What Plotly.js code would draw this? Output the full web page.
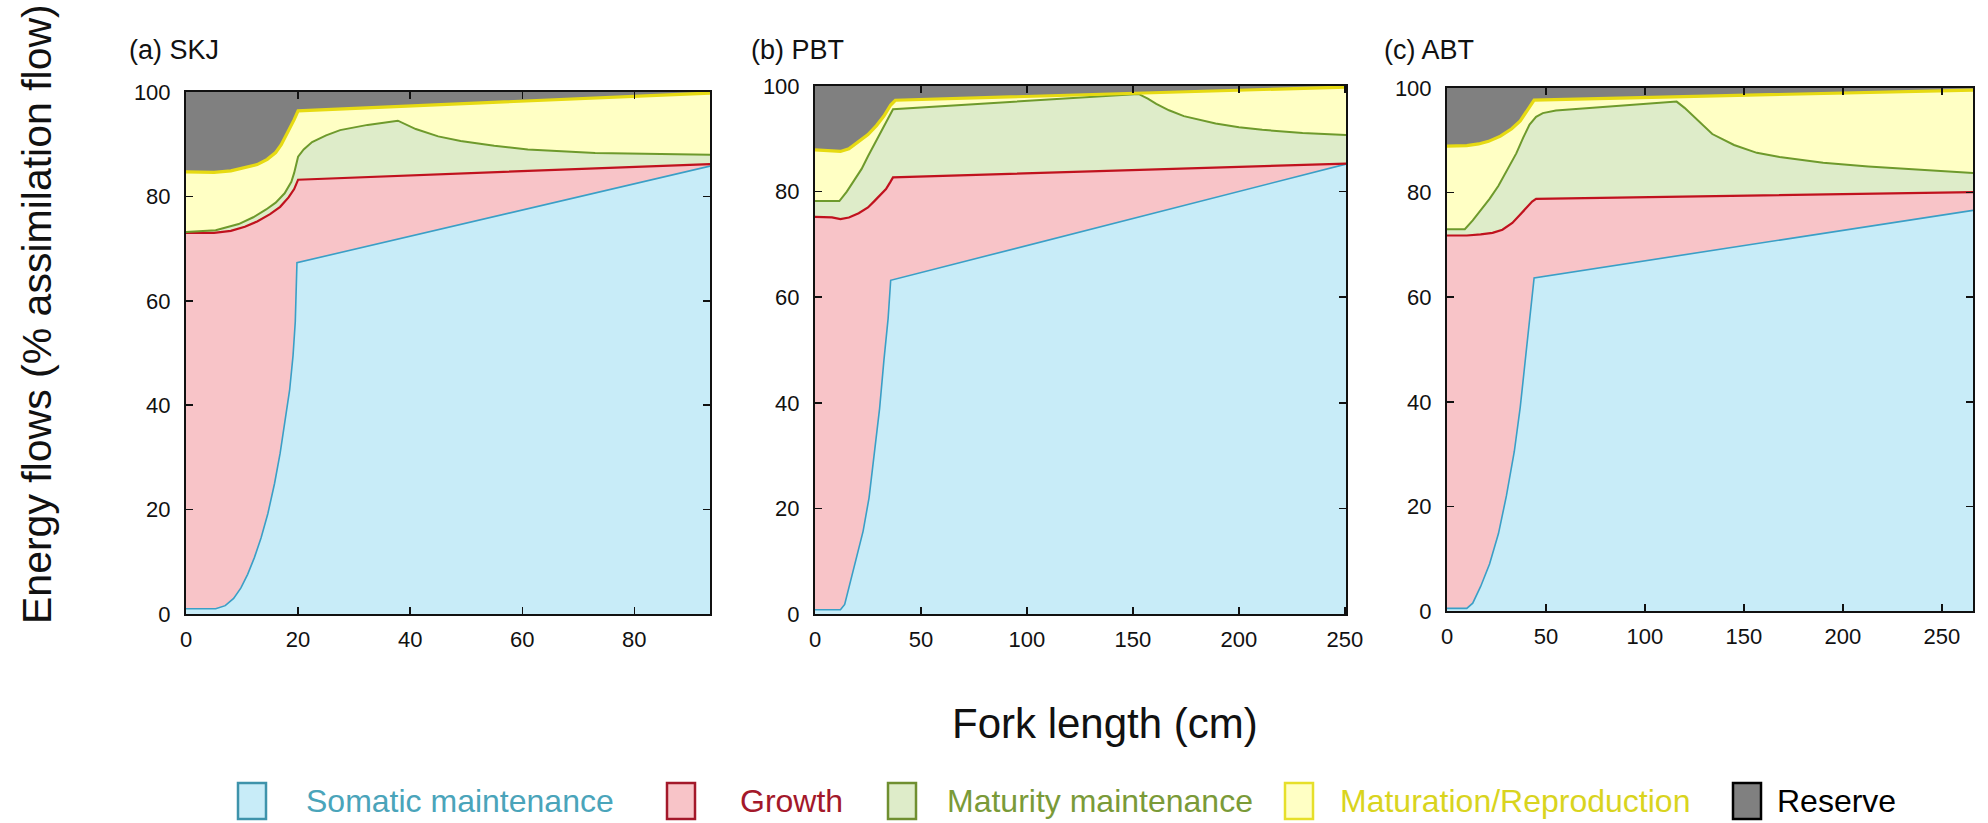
<!DOCTYPE html>
<html>
<head>
<meta charset="utf-8">
<script src="https://cdn.plot.ly/plotly-3.0.1.min.js"></script>
<style>
  html, body { margin: 0; padding: 0; background: #fff; }
  #chart { width: 1988px; height: 823px; }
</style>
</head>
<body>
<div id="chart"></div>
<script>
// ---------------- DATA (cumulative upper boundaries, % assimilation flow) ----------------
const seriesNames = ["Somatic maintenance", "Growth", "Maturity maintenance", "Maturation/Reproduction", "Reserve"];
const panelLabels = ["(a) SKJ", "(b) PBT", "(c) ABT"];
const xMax = [93.5, 250.5, 265.7];
const xTicksA = [0, 20, 40, 60, 80];
const xTicksBC = [0, 50, 100, 150, 200, 250];
const yTicks = [0, 20, 40, 60, 80, 100];

// (a) SKJ
const skjSomaticX = [0, 5.3, 7, 8.5, 9.8, 11, 12.2, 13.4, 14.6, 15.8, 16.8, 17.7, 18.5, 19.1, 19.5, 19.8, 93.5];
const skjSomaticY = [1, 1, 1.6, 3, 5, 7.6, 10.8, 14.6, 19.2, 25, 30.8, 36.8, 43, 49.5, 56, 67.3, 85.8];
const skjGrowthX = [0, 5, 8, 10.5, 12.7, 15, 16.8, 18.3, 19.3, 20, 93.5];
const skjGrowthY = [73, 73, 73.4, 74.2, 75.2, 76.6, 78, 79.8, 81.4, 83.2, 86.2];
const skjMaturityX = [0, 5.3, 9.4, 12, 14.3, 16, 17.6, 18.8, 19.3, 20, 21, 22.5, 25, 27.5, 32.4, 37.8, 41, 45, 49, 55, 61, 73, 93.5];
const skjMaturityY = [73.2, 73.5, 74.7, 76, 77.5, 78.8, 80.6, 82.8, 84.5, 87.6, 89, 90.4, 91.7, 92.7, 93.7, 94.5, 92.9, 91.5, 90.6, 89.7, 89, 88.3, 88];
const skjMaturationX = [0, 5, 8, 11, 12.7, 14.5, 16, 17, 18, 19.3, 20, 93.5];
const skjMaturationY = [84.7, 84.6, 84.9, 85.6, 86.1, 87.1, 88.4, 89.9, 91.9, 94.7, 96.4, 99.8];

// (b) PBT
const pbtSomaticX = [0, 12, 14, 16, 19, 22.7, 25.5, 28, 30.5, 32.5, 34.5, 35.7, 250.5];
const pbtSomaticY = [0.8, 0.8, 1.8, 4.9, 9.5, 15.7, 22, 31, 39, 48, 56, 63.2, 85.2];
const pbtGrowthX = [0, 8, 12, 16, 20.6, 25, 28, 31, 33.5, 35.5, 36.8, 250.5];
const pbtGrowthY = [75.2, 75.1, 74.8, 75.1, 75.9, 77, 78.2, 79.4, 80.5, 81.8, 82.7, 85.3];
const pbtMaturityX = [0, 11.5, 15, 18.4, 22, 25, 28, 31.4, 34, 36.8, 152.6, 157, 161, 167, 174, 181, 189, 200, 211, 230, 250.5];
const pbtMaturityY = [78.2, 78.2, 80, 82, 84.3, 86.7, 89, 91.4, 93.3, 95.6, 98.5, 97.6, 96.6, 95.4, 94.3, 93.6, 92.9, 92.2, 91.7, 91.1, 90.7];
const pbtMaturationX = [0, 8, 12, 16, 20.6, 25, 29, 32.5, 35.7, 37.9, 250.5];
const pbtMaturationY = [87.9, 87.8, 87.6, 88.1, 89.4, 90.8, 92.5, 94.3, 96.4, 97.3, 99.8];

// (c) ABT
const abtSomaticX = [0, 10, 13, 17, 21.5, 26, 30, 34, 37, 39.4, 42, 44, 265.7];
const abtSomaticY = [0.5, 0.5, 1.5, 4.7, 9, 14.8, 22, 30.5, 39, 47.7, 56, 63.7, 76.6];
const abtGrowthX = [0, 10, 17, 23, 28, 33, 37, 40.5, 43, 45, 265.7];
const abtGrowthY = [71.8, 71.8, 72, 72.3, 72.9, 74.2, 75.8, 77.3, 78.3, 78.8, 80.1];
const abtMaturityX = [0, 9, 13, 17, 21.5, 26, 30.5, 35, 38.5, 41.7, 45, 48.4, 55, 116, 120, 124, 129, 134, 145, 156.5, 168, 179, 190, 212.8, 235, 265.7];
const abtMaturityY = [73, 73, 74.7, 76.6, 78.8, 81.3, 84.3, 87.5, 90.5, 93, 94.5, 95.2, 95.7, 97.4, 96.2, 94.8, 93, 91.2, 89.1, 87.6, 86.8, 86.2, 85.7, 85, 84.5, 83.75];
const abtMaturationX = [0, 10, 16, 21, 27, 32.7, 37, 40.5, 42.5, 44, 265.7];
const abtMaturationY = [88.9, 89, 89.3, 89.8, 90.8, 92.2, 93.7, 95.7, 96.9, 97.7, 99.6];

const reserveTop = [100, 100];

// ---------------- STYLE ----------------
const fillColors = ["rgb(200,236,248)", "rgb(248,196,200)", "rgb(222,236,201)", "rgb(255,255,196)", "rgb(128,128,128)"];
const lineColors = ["#3a9fc6", "#c0121e", "#6e9a2c", "#e6da12", "#808080"];
const lineWidths = [1.6, 2.2, 2, 3.2, 0];
const legendTextColors = ["#4aa4ba", "#a3182a", "#7a9a38", "#d9d41e", "#000000"];
const legendBorderColors = ["#3e93ab", "#a3182a", "#6f8f30", "#e6df2a", "#000000"];

const FONT = "Liberation Sans, Arial, Helvetica, sans-serif";

const panels = [
  [[skjSomaticX, skjSomaticY], [skjGrowthX, skjGrowthY], [skjMaturityX, skjMaturityY], [skjMaturationX, skjMaturationY]],
  [[pbtSomaticX, pbtSomaticY], [pbtGrowthX, pbtGrowthY], [pbtMaturityX, pbtMaturityY], [pbtMaturationX, pbtMaturationY]],
  [[abtSomaticX, abtSomaticY], [abtGrowthX, abtGrowthY], [abtMaturityX, abtMaturityY], [abtMaturationX, abtMaturationY]]
];

// pixel layout -> paper fractions
const W = 1988, H = 823;
const boxes = [
  {l: 186, r: 710, t: 92, b: 614},
  {l: 815, r: 1346, t: 86, b: 614},
  {l: 1447, r: 1973, t: 88, b: 611}
];

const traces = [];
panels.forEach((series, p) => {
  const ax = p === 0 ? "" : String(p + 1);
  series.forEach((s, i) => {
    traces.push({
      type: "scatter", mode: "lines",
      x: s[0], y: s[1],
      xaxis: "x" + ax, yaxis: "y" + ax,
      fill: i === 0 ? "tozeroy" : "tonexty",
      fillcolor: fillColors[i],
      line: {color: lineColors[i], width: lineWidths[i]},
      name: seriesNames[i], showlegend: false, hoverinfo: "skip"
    });
  });
  traces.push({
    type: "scatter", mode: "lines",
    x: [0, xMax[p]], y: reserveTop,
    xaxis: "x" + ax, yaxis: "y" + ax,
    fill: "tonexty", fillcolor: fillColors[4],
    line: {color: fillColors[4], width: 0},
    name: seriesNames[4], showlegend: false, hoverinfo: "skip"
  });
});

const layout = {
  width: W, height: H,
  margin: {l: 0, r: 0, t: 0, b: 0},
  paper_bgcolor: "#fff", plot_bgcolor: "#fff",
  font: {family: FONT, color: "#111", size: 22},
  showlegend: false,
  annotations: [], shapes: []
};

boxes.forEach((bx, p) => {
  const ax = p === 0 ? "" : String(p + 1);
  const common = {
    showline: true, linecolor: "#111", linewidth: 2, mirror: "ticks",
    ticks: "inside", ticklen: 7, tickwidth: 1.5, tickcolor: "#111",
    showgrid: false, zeroline: false,
    tickfont: {family: FONT, size: 22, color: "#111"},
    layer: "above traces", fixedrange: true
  };
  layout["xaxis" + ax] = Object.assign({}, common, {
    domain: [bx.l / W, bx.r / W],
    range: [0, xMax[p]],
    tickmode: "array", tickvals: p === 0 ? xTicksA : xTicksBC,
    anchor: "y" + ax, ticklabelstandoff: 5
  });
  layout["yaxis" + ax] = Object.assign({}, common, {
    domain: [1 - bx.b / H, 1 - bx.t / H],
    range: [0, 100],
    tickmode: "array", tickvals: yTicks,
    anchor: "x" + ax, ticklabelstandoff: 9
  });
});

// panel labels
const labelX = [127, 749, 1382];
panelLabels.forEach((t, p) => {
  layout.annotations.push({
    xref: "paper", yref: "paper", x: labelX[p] / W, y: 1 - 50 / H,
    xanchor: "left", yanchor: "middle", showarrow: false,
    text: t, font: {family: FONT, size: 27, color: "#111"}
  });
});

// axis titles
layout.annotations.push({
  xref: "paper", yref: "paper", x: 37 / W, y: 1 - 314 / H,
  xanchor: "center", yanchor: "middle", showarrow: false, textangle: -90,
  text: "Energy flows (% assimilation flow)", font: {family: FONT, size: 41, color: "#111"}
});
layout.annotations.push({
  xref: "paper", yref: "paper", x: 1105 / W, y: 1 - 723 / H,
  xanchor: "center", yanchor: "middle", showarrow: false,
  text: "Fork length (cm)", font: {family: FONT, size: 42, color: "#111"}
});

// legend (manual)
const legSquareL = [238, 667, 888, 1285, 1733];
const legTextL = [304, 738, 945, 1338, 1775];
const legCY = 801, sqW = 28, sqH = 36;
seriesNames.forEach((n, i) => {
  layout.shapes.push({
    type: "rect", xref: "paper", yref: "paper",
    x0: legSquareL[i] / W, x1: (legSquareL[i] + sqW) / W,
    y0: 1 - (legCY + sqH / 2) / H, y1: 1 - (legCY - sqH / 2) / H,
    fillcolor: fillColors[i], line: {color: legendBorderColors[i], width: 2.5}
  });
  layout.annotations.push({
    xref: "paper", yref: "paper", x: legTextL[i] / W, y: 1 - legCY / H,
    xanchor: "left", yanchor: "middle", showarrow: false,
    text: n, font: {family: FONT, size: 32, color: legendTextColors[i]}
  });
});

Plotly.newPlot("chart", traces, layout, {staticPlot: true, displayModeBar: false});
</script>
</body>
</html>
